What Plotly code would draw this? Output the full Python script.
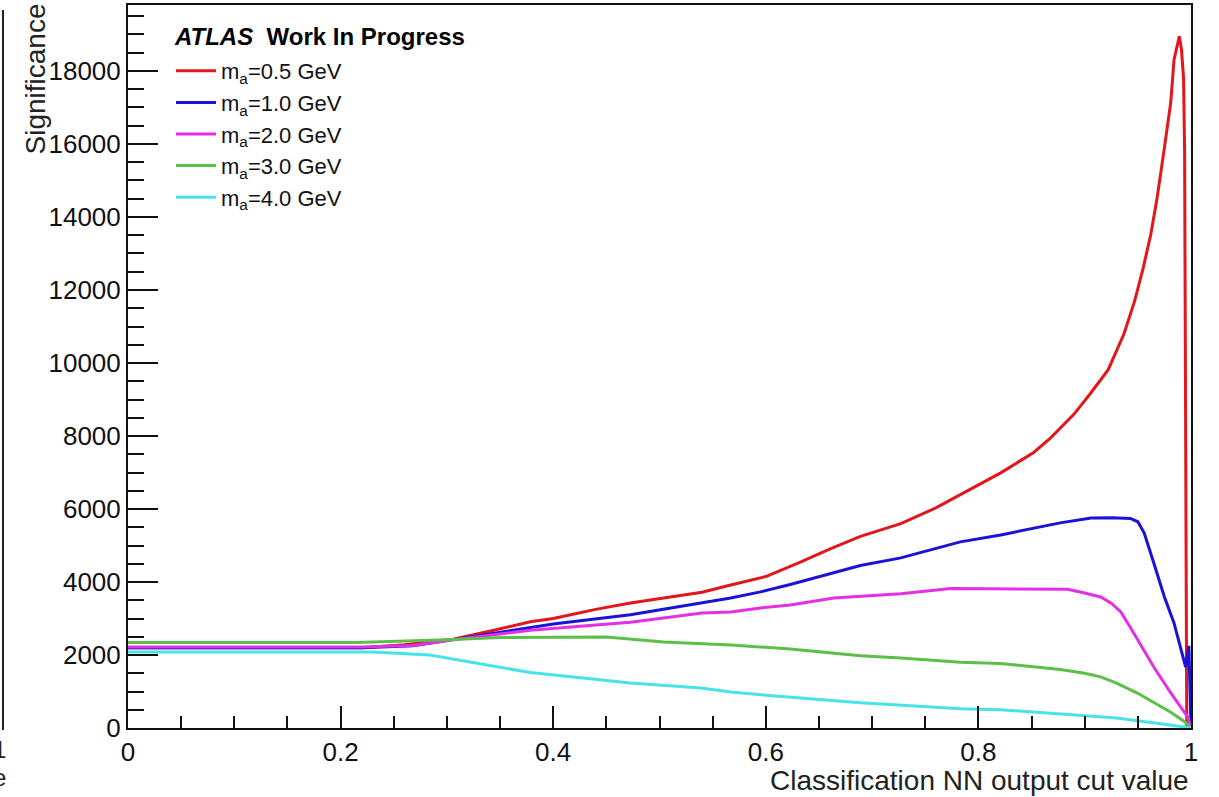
import plotly.graph_objects as go

# ---- data ----
x_05 = [0, 0.22, 0.26, 0.306, 0.34, 0.3785, 0.4, 0.44, 0.4727, 0.5, 0.54, 0.567, 0.6, 0.633,
        0.66, 0.689, 0.727, 0.76, 0.783, 0.821, 0.852, 0.868, 0.89, 0.905, 0.922, 0.937, 0.947,
        0.955, 0.962, 0.968, 0.975, 0.981, 0.984, 0.987, 0.989, 0.991, 0.993, 0.994, 0.995, 0.996]
y_05 = [2200, 2200, 2280, 2430, 2650, 2910, 3000, 3250, 3425, 3550, 3720, 3918, 4150, 4550,
        4900, 5250, 5600, 6030, 6400, 6990, 7550, 7950, 8600, 9150, 9810, 10800, 11700,
        12600, 13500, 14500, 15900, 17150, 18300, 18700, 18950, 18600, 17800, 15800, 7900, 0]

x_10 = [0, 0.22, 0.268, 0.306, 0.3785, 0.4, 0.4727, 0.5, 0.54, 0.567, 0.595, 0.623, 0.689,
        0.727, 0.783, 0.821, 0.877, 0.906, 0.925, 0.943, 0.95, 0.956, 0.965, 0.975, 0.984,
        0.992, 0.995, 0.998, 1.0]
y_10 = [2200, 2200, 2250, 2420, 2760, 2850, 3100, 3230, 3425, 3560, 3730, 3930, 4450,
        4660, 5100, 5290, 5620, 5750, 5760, 5740, 5650, 5340, 4520, 3590, 2880,
        1950, 1670, 2250, 0]

x_20 = [0, 0.22, 0.268, 0.306, 0.3785, 0.4727, 0.54, 0.567, 0.595, 0.623, 0.664, 0.689, 0.727,
        0.774, 0.82, 0.884, 0.9, 0.915, 0.925, 0.934, 0.942, 0.95, 0.965, 0.981, 0.997, 1.0]
y_20 = [2220, 2220, 2260, 2420, 2680, 2900, 3150, 3180, 3290, 3370, 3560, 3600, 3680,
        3820, 3810, 3800, 3700, 3590, 3420, 3180, 2800, 2410, 1670, 960, 300, 0]

x_30 = [0, 0.215, 0.3, 0.35, 0.45, 0.504, 0.567, 0.6, 0.623, 0.689, 0.727, 0.783, 0.821,
        0.877, 0.9, 0.915, 0.93, 0.95, 0.965, 0.981, 0.995, 1.0]
y_30 = [2340, 2340, 2420, 2480, 2490, 2356, 2274, 2220, 2164, 1980, 1920, 1800, 1770,
        1600, 1500, 1400, 1230, 950, 700, 430, 150, 0]

x_40 = [0, 0.23, 0.284, 0.3785, 0.4727, 0.539, 0.567, 0.6, 0.689, 0.727, 0.783, 0.821,
        0.877, 0.93, 0.98, 1.0]
y_40 = [2080, 2080, 2000, 1520, 1233, 1096, 986, 900, 690, 630, 530, 500,
        390, 274, 80, 0]

series = [
    ("m<sub>a</sub>=0.5 GeV", x_05, y_05, "#e3161b"),
    ("m<sub>a</sub>=1.0 GeV", x_10, y_10, "#1a12d6"),
    ("m<sub>a</sub>=2.0 GeV", x_20, y_20, "#e52fe5"),
    ("m<sub>a</sub>=3.0 GeV", x_30, y_30, "#5cbf48"),
    ("m<sub>a</sub>=4.0 GeV", x_40, y_40, "#48e3e8"),
]

FONT = "Liberation Sans, Arial, Helvetica, sans-serif"

fig = go.Figure()
for name, xs, ys, col in series:
    fig.add_trace(go.Scatter(x=xs, y=ys, mode="lines", name=name,
                             line=dict(color=col, width=3)))

W, H = 1219, 797
L, R, T, B = 128, 28, 5, 69
pw, ph = W - L - R, H - T - B

def px_x(p):
    return (p - L) / pw

def px_y(p):
    return (H - B - p) / ph

fig.update_layout(
    width=W, height=H,
    margin=dict(l=L, r=R, t=T, b=B, autoexpand=False),
    paper_bgcolor="white", plot_bgcolor="white",
    font=dict(family=FONT, color="#111", size=26),
    showlegend=True,
    legend=dict(x=px_x(171), y=px_y(50), xanchor="left", yanchor="top",
                bgcolor="rgba(0,0,0,0)", borderwidth=0,
                font=dict(family=FONT, size=22, color="#111"),
                itemwidth=40, tracegroupgap=0),
)

fig.update_xaxes(
    range=[0, 1], dtick=0.2, tick0=0, tickformat="~g",
    ticks="inside", ticklen=22, tickwidth=2, tickcolor="#111",
    minor=dict(dtick=0.05, ticks="inside", ticklen=12, tickwidth=2, tickcolor="#111"),
    showline=True, linecolor="#111", linewidth=2, mirror=True,
    showgrid=False, zeroline=False,
    tickfont=dict(family=FONT, size=26, color="#111"),
)
fig.update_yaxes(
    range=[0, 19808], dtick=2000, tick0=0, tickformat="d",
    ticks="inside", ticklen=30, tickwidth=2, tickcolor="#111",
    minor=dict(dtick=500, ticks="inside", ticklen=16, tickwidth=2, tickcolor="#111"),
    showline=True, linecolor="#111", linewidth=2, mirror=True,
    showgrid=False, zeroline=False,
    tickfont=dict(family=FONT, size=26, color="#111"),
)

annotations = [
    dict(text="<b><i>ATLAS</i></b>  <b>Work In Progress</b>", xref="paper", yref="paper",
         x=px_x(172), y=px_y(37), xanchor="left", yanchor="middle", showarrow=False,
         font=dict(family=FONT, size=24, color="#000")),
    dict(text="Classification NN output cut value", xref="paper", yref="paper",
         x=px_x(1191), y=px_y(780), xanchor="right", yanchor="middle", showarrow=False,
         font=dict(family=FONT, size=28, color="#222")),
    dict(text="Significance", xref="paper", yref="paper", textangle=-90,
         x=px_x(35), y=px_y(2), xanchor="center", yanchor="top", showarrow=False,
         font=dict(family=FONT, size=28, color="#222")),
    # fragments of the neighbouring panel cut at the left edge
    dict(text="1", xref="paper", yref="paper", x=px_x(8), y=px_y(750),
         xanchor="right", yanchor="middle", showarrow=False,
         font=dict(family=FONT, size=24, color="#222")),
    dict(text="e", xref="paper", yref="paper", x=px_x(8), y=px_y(777),
         xanchor="right", yanchor="middle", showarrow=False,
         font=dict(family=FONT, size=24, color="#222")),
]
fig.update_layout(annotations=annotations)

fig.add_shape(type="line", xref="paper", yref="paper",
              x0=px_x(3), x1=px_x(3), y0=px_y(10), y1=px_y(730),
              line=dict(color="#222", width=2))

fig.write_html("out.html")
